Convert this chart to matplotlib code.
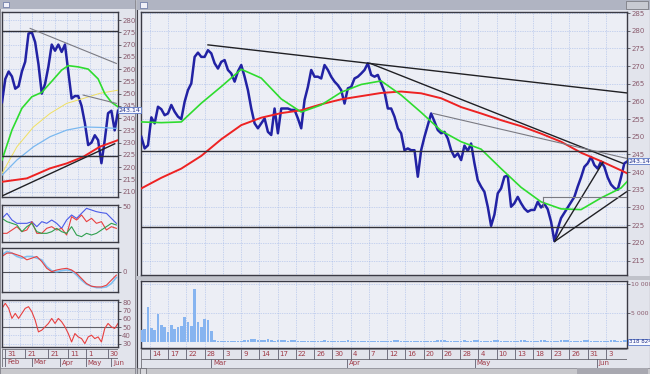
import numpy as np
import matplotlib
matplotlib.use("Agg")
import matplotlib.pyplot as plt
from matplotlib.patches import Rectangle
import matplotlib.transforms as mtransforms

W, H = 650, 374

# ---------------- main window data (x = bar number) ----------------
price = [250.0, 246.7, 247.6, 255.5, 253.8, 258.5, 257.8, 256.1, 256.6, 259.0,
         257.1, 255.7, 255.0, 259.9, 263.2, 265.1, 272.6, 273.8, 272.6, 272.6,
         274.5, 273.6, 270.8, 269.3, 271.2, 271.7, 268.9, 267.9, 265.6, 268.5,
         270.3, 267.0, 263.2, 258.0, 253.8, 252.4, 253.8, 255.2, 251.4, 250.5,
         258.0, 251.0, 258.0, 258.0, 258.0, 257.6, 257.6, 255.2, 252.4, 260.4,
         264.1,
         268.9, 267.0, 267.0, 266.5, 270.3, 268.9, 267.0, 265.6, 264.6, 263.2,
         259.4, 263.7, 264.1, 266.5, 267.0, 267.9, 268.9, 270.8, 267.5, 267.0,
         267.5, 265.1, 262.7, 258.0, 258.0, 255.7, 252.4, 251.0, 246.2, 246.7,
         246.2, 246.2, 238.7, 246.2, 250.0, 253.3, 256.6, 254.3, 251.9, 251.0,
         251.4, 249.5, 246.2, 244.3, 245.3, 243.4,
         247.5, 246.0, 248.1, 242.5, 237.7, 235.9, 234.4, 230.2, 224.8, 228.0,
         234.0, 235.4, 238.7, 239.0, 230.2, 231.2, 233.0, 231.2, 229.7, 228.8,
         229.3, 229.3, 231.6, 230.0, 231.0, 229.5, 226.0, 220.5, 224.0, 227.0,
         228.5, 230.0, 231.5, 233.0, 235.9, 238.5, 241.5, 242.5, 244.3, 242.0,
         241.0, 243.0, 241.5, 238.5, 236.5, 235.5, 235.0, 238.5, 242.5, 243.1]

ma_x = list(range(0, 145, 6)) + [146]
green_ma = [254.2, 254.0, 254.2, 259.5, 264.2, 269.1, 266.6, 260.7, 257.0, 259.0,
            262.6, 264.8, 265.8, 261.8, 256.9, 251.7, 248.6, 246.5, 241.0, 235.7,
            231.6, 229.6, 229.4, 232.7, 235.5, 237.5]
red_ma = [235.4, 238.4, 241.0, 244.6, 249.3, 253.3, 255.4, 256.7, 257.5, 259.2,
          260.6, 261.5, 262.4, 262.8, 262.3, 260.9, 258.4, 256.6, 254.7, 253.0,
          250.9, 248.6, 245.5, 243.1, 240.5, 239.6]

# volume in thousands
volume = [2000, 2300, 6000, 2500, 2000, 4900, 3000, 2600, 1800, 2900, 2200,
          2600, 2800, 4300, 3400, 2800, 9200, 3500, 2600, 4000, 3800, 1900,
          300, 180, 150, 120, 200, 150, 100, 130, 160,
          280, 350, 450, 520, 380, 300, 420, 560, 320, 260, 420,
          380, 300, 250, 350, 280, 200, 180, 220, 150, 260, 200,
          180, 240, 300, 260, 200, 150, 180, 220, 260, 300, 250,
          200, 180, 150, 220, 260, 200, 160, 140, 180, 220, 200,
          240, 280, 300, 250, 200, 180, 150, 200, 240, 260, 220,
          180, 200, 240, 300, 350, 280, 250, 200, 180, 220, 260,
          300, 250, 220, 280, 320, 260, 200, 180, 240, 280, 300,
          260, 220, 200, 180, 240, 260, 300, 280, 220, 200, 240,
          260, 300, 280, 240, 200, 220, 260, 300, 320, 280, 240,
          220, 200, 260, 280, 300, 260, 240, 220, 200, 240, 260,
          280, 300, 260, 240, 280, 320]

day_labels = ['14', '17', '22', '28', '3', '9', '14', '17', '22', '26', '30', '4', '7',
              '12', '16', '20', '26', '28', '4', '10', '13', '18', '23', '26', '31', '3']
month_labels = ['Mar', 'Apr', 'May', 'Jun']
month_x = [20.9, 61.7, 100.1, 136.7]
last_price = 243.14

# trend lines (x0, y0, x1, y1)
black_lines = [(20.0, 276.0, 145.8, 262.4),
               (68.6, 270.8, 144.5, 242.5),
               (124.1, 220.4, 138.6, 242.8),
               (124.1, 220.4, 145.6, 234.4)]
grey_lines = [(87.6, 256.6, 145.6, 243.9),
              (120.5, 232.9, 145.6, 232.9),
              (120.5, 230.0, 120.5, 232.9)]
levels = [246.1, 224.6]

# ---------------- left window data ----------------
l_price = [246.5, 256.0, 259.0, 257.0, 252.0, 253.0, 259.0, 263.0, 274.5, 275.0,
           271.0, 262.0, 250.0, 254.0, 261.0, 270.0, 267.5, 270.0, 267.0, 270.0,
           259.0, 248.0, 249.0, 249.0, 245.0, 238.0, 229.0, 230.0, 233.0, 231.0,
           221.6, 231.0, 242.0, 243.0, 235.0, 243.0]
l_green_x = [0, 3, 6, 9, 12, 15, 18, 20, 23, 26, 29, 31, 33, 35]
l_green = [222.9, 235.1, 244.0, 248.7, 250.5, 255.0, 259.6, 261.4, 260.9, 260.0,
           256.0, 250.0, 246.5, 244.6]
l_yellow_x = [0, 4.5, 9.5, 14.5, 19.5, 24.5, 29.5, 35]
l_yellow = [217.4, 228.3, 236.4, 241.9, 246.0, 248.0, 250.1, 251.4]
l_blue_x = [0, 4.5, 9.5, 14.5, 19.5, 24.5, 29.5, 34.5]
l_blue = [216.7, 222.9, 228.3, 232.4, 235.1, 236.4, 236.2, 235.8]
l_red_x = [0, 7.5, 14.5, 19.5, 24.5, 29.5, 35]
l_red = [214.0, 215.4, 219.5, 221.5, 224.2, 228.3, 231.0]
l_black_lines = [(-0.5, 207.9, 34.0, 229.5)]
l_grey_lines = [(8.5, 276.6, 34.5, 262.3), (24.5, 249.4, 34.5, 246.0)]
l_levels = [275.6, 224.6]

osc_blue = [36, 42, 34, 30, 30, 30, 32, 26, 32, 30, 34, 30, 24, 34, 40, 36, 42, 48, 46, 44, 42.8, 42, 36, 30]
osc_red = [18, 18, 22, 26, 20, 22, 32, 18, 18, 24, 26, 22, 24, 16, 38, 34, 40, 32, 36, 30, 32, 22, 26, 24]
osc_green = [36, 32, 30, 28, 20, 26, 30, 20, 18, 18, 20, 24, 20, 18, 26, 16, 14, 18, 16, 18, 22, 26, 30, 28]
macd_red = [4.5, 5.5, 5.5, 5, 4.5, 3.5, 4, 4.5, 3, 1, 0, 0.5, 0.8, 1, 0.5, -0.5, -2, -3.5, -4.3, -4.5, -4.5, -4, -2.5, -1]
macd_blue = [5, 6, 5.5, 4.5, 4, 4.5, 4.5, 4, 3.5, 1.5, 0.3, 0, 0.3, 0.5, 0.3, -1, -2.5, -3.7, -4.3, -4.7, -4.7, -4.5, -3.5, -1.7]
rsi = [72.7, 78.8, 72.7, 60.5, 66.6, 60.5, 66.6, 72.7, 74.7, 68.6, 58.5, 44.2, 46.3, 50.3, 54.4, 60.5,
       54.4, 60.5, 56.4, 50.3, 42.2, 32.0, 42.2, 38.1, 36.1, 30.0, 38.1, 40.2, 36.1, 38.1, 32.0, 48.3,
       54.4, 50.3, 48.3, 54.4]
l_day_labels = ['31', '21', '21', '11', '1', '30']
l_day_x = [1.0, 7.0, 13.9, 19.9, 25.3, 31.9]
l_month_labels = ['Feb', 'Mar', 'Apr', 'May', 'Jun']
l_month_x = [1.0, 9.0, 17.5, 25.3, 33.0]

GRID = '#9fb6e8'
LAB = '#8a5c6e'
FACE = '#eceef5'
CHROME = '#e2e4ec'

fig = plt.figure(figsize=(6.5, 3.74), dpi=100, facecolor='#c4c6ce')


def rect_px(x0, y0, x1, y1, fc, ec='none', lw=0.0):
    fig.add_artist(Rectangle((x0 / W, 1 - y1 / H), (x1 - x0) / W, (y1 - y0) / H,
                             transform=fig.transFigure, fc=fc, ec=ec, lw=lw, zorder=-5))


def add_px(x0, y0, x1, y1):
    ax = fig.add_axes([x0 / W, 1 - y1 / H, (x1 - x0) / W, (y1 - y0) / H])
    ax.set_facecolor(FACE)
    for s in ax.spines.values():
        s.set_color('#3a3a44')
        s.set_linewidth(1.0)
    ax.tick_params(axis='x', length=0, labelbottom=False)
    ax.yaxis.tick_right()
    ax.tick_params(axis='y', length=2, width=0.6, pad=1, labelsize=5,
                   labelcolor=LAB, color='#505058')
    ax.set_axisbelow(True)
    return ax


def grid(ax):
    ax.grid(True, color=GRID, lw=0.5, ls=(0, (1, 1.5)))


def segs(ax, lines, color, lw):
    for x0, y0, x1, y1 in lines:
        ax.plot([x0, x1], [y0, y1], color=color, lw=lw, zorder=5)


def price_box(ax, y, txt, size=4.5):
    ax.text(1.004, y, txt, transform=ax.get_yaxis_transform(), fontsize=size,
            color='#24328a', va='center', ha='left', clip_on=False,
            bbox=dict(fc='#f6f8ff', ec='#5a78c8', lw=0.6, pad=0.4))


def date_strip(ax, xlim, dx, dl, mx, ml):
    ax.set_xlim(xlim)
    ax.set_ylim(0, 2)
    ax.axis('off')
    ax.add_patch(Rectangle((xlim[0], 1), xlim[1] - xlim[0], 1, fc=CHROME, ec='#707078', lw=0.6))
    ax.add_patch(Rectangle((xlim[0], 0), xlim[1] - xlim[0], 1, fc=CHROME, ec='#707078', lw=0.6))
    off = mtransforms.offset_copy(ax.transData, fig=fig, x=2, y=0, units='dots')
    for x, t in zip(dx, dl):
        ax.plot([x, x], [1, 2], color='#606070', lw=0.6)
        ax.text(x, 1.5, t, transform=off, fontsize=5, color='#a03c48', va='center', ha='left')
    for x, t in zip(mx, ml):
        ax.plot([x, x], [0, 1], color='#606070', lw=0.6)
        ax.text(x, 0.5, t, transform=off, fontsize=5, color='#a03c48', va='center', ha='left')


# window chrome
rect_px(0, 0, 135, 374, CHROME, ec='#808088', lw=0.6)
rect_px(0, 0, 135, 9, '#b0b4c2')
rect_px(137, 0, 650, 374, CHROME, ec='#404048', lw=0.8)
rect_px(137, 0, 650, 10, '#b0b4c2')
rect_px(140, 2, 147, 8, '#f0f0f8', ec='#6070a0', lw=0.5)
rect_px(3, 2, 9, 7, '#f0f0f8', ec='#6070a0', lw=0.5)
rect_px(626, 1, 648, 9, '#c8cad2', ec='#707078', lw=0.5)
rect_px(137, 276, 650, 280, '#c0c2ca')
rect_px(137, 368, 650, 374, '#c8c8cc', ec='#808088', lw=0.5)
rect_px(577, 368, 648, 374, '#a8a8b0')
rect_px(140, 368, 146, 374, '#d8d8dc', ec='#606068', lw=0.5)
rect_px(0, 368, 135, 374, '#c8c8cc', ec='#808088', lw=0.5)

# ---------------- main price ----------------
x = np.arange(len(price))
xlim = (-0.1, 145.8)
day_x = [2.6 + 5.475 * k for k in range(len(day_labels))]

ax = add_px(141, 12, 627, 275)
ax.set_xlim(xlim)
ax.set_ylim(210.9, 285.3)
ax.set_yticks(np.arange(215, 286, 5))
ax.set_xticks(day_x)
grid(ax)
for lv in levels:
    ax.axhline(lv, color='#303038', lw=1.0, zorder=5)
ax.plot(x, price, color='#2222a4', lw=1.8, zorder=3)
ax.plot(ma_x, red_ma, color='#ee2222', lw=1.4, zorder=4)
ax.plot(ma_x, green_ma, color='#2edc2e', lw=1.2, zorder=4)
segs(ax, black_lines, '#202024', 1.0)
segs(ax, grey_lines, '#7a7a82', 0.8)
price_box(ax, last_price, '243.14')

# volume
av = add_px(141, 281, 627, 348)
av.set_xlim(xlim)
av.set_ylim(-1030, 10520)
av.set_xticks(day_x)
av.set_yticks([5000, 10000])
av.set_yticklabels(['5 000 000', '10 000 000'])
av.tick_params(axis='y', labelsize=4.5)
grid(av)
av.bar(x, volume, width=0.8, color='#86b4f0', edgecolor='none', zorder=3)
price_box(av, 50, '318 824', size=4)

ad = add_px(141, 349, 627, 368)
date_strip(ad, xlim, day_x, day_labels, month_x, month_labels)

# ---------------- left window ----------------
lx = np.arange(len(l_price))
lxlim = (0, 35)
l_grid_x = np.arange(2, 35, 3.5)

al = add_px(2, 12, 118, 197)
al.set_xlim(lxlim)
al.set_ylim(207.8, 283.3)
al.set_yticks(np.arange(210, 281, 5))
al.set_xticks(l_grid_x)
grid(al)
for lv in l_levels:
    al.axhline(lv, color='#303038', lw=1.0, zorder=5)
al.plot(lx, l_price, color='#2222a4', lw=1.8, zorder=3)
al.plot(l_yellow_x, l_yellow, color='#f0e060', lw=0.7, zorder=4)
al.plot(l_blue_x, l_blue, color='#7ab8f0', lw=0.9, zorder=4)
al.plot(l_red_x, l_red, color='#ee2222', lw=1.4, zorder=4)
al.plot(l_green_x, l_green, color='#2edc2e', lw=1.2, zorder=4)
segs(al, l_black_lines, '#202024', 1.0)
segs(al, l_grey_lines, '#7a7a82', 0.8)
price_box(al, last_price, '243.14')

ox = np.arange(len(osc_blue)) * 1.5

a1 = add_px(2, 205, 118, 242)
a1.set_xlim(lxlim)
a1.set_ylim(7.6, 52)
a1.set_yticks([50])
a1.set_xticks(l_grid_x)
grid(a1)
a1.plot(ox, osc_blue, color='#4a5ae8', lw=0.8)
a1.plot(ox, osc_red, color='#e84040', lw=0.8)
a1.plot(ox, osc_green, color='#30a050', lw=0.8)

a2 = add_px(2, 248, 118, 292)
a2.set_xlim(lxlim)
a2.set_ylim(-6, 7)
a2.set_yticks([0])
a2.set_xticks(l_grid_x)
grid(a2)
a2.axhline(0, color='#505058', lw=0.8)
a2.plot(ox, macd_blue, color='#80c0f0', lw=1.2)
a2.plot(ox, macd_red, color='#e84040', lw=0.8)

a3 = add_px(2, 300, 118, 347)
a3.set_xlim(lxlim)
a3.set_ylim(25.9, 82.8)
a3.set_yticks(np.arange(30, 81, 10))
a3.set_xticks(l_grid_x)
grid(a3)
a3.axhline(50, color='#606068', lw=0.8)
a3.plot(lx, rsi, color='#e84040', lw=0.8)

ald = add_px(2, 349, 118, 367)
date_strip(ald, lxlim, l_day_x, l_day_labels, l_month_x, l_month_labels)

fig.savefig('out.png', dpi=100, facecolor=fig.get_facecolor())
